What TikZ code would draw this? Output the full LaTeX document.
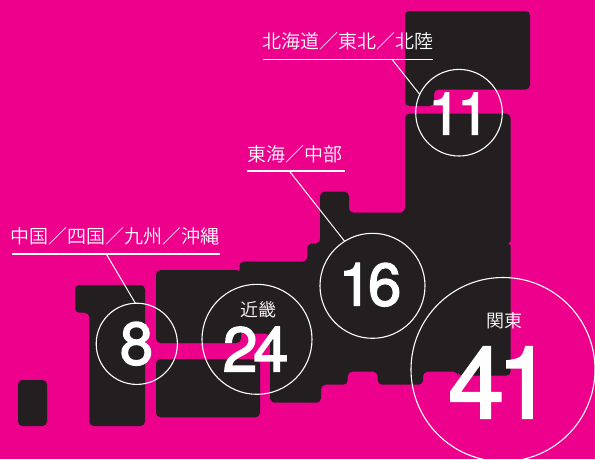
\documentclass[tikz,border=0pt]{standalone}
\usepackage{fontspec}
\setmainfont{TeX Gyre Heros}
\newfontfamily\cjk{Noto Sans CJK JP DemiLight}
\newfontfamily\numf{TeX Gyre Heros}[FakeBold=2.2,LetterSpace=-7]
\definecolor{mag}{HTML}{EC008C}
\definecolor{ink}{HTML}{231F20}
\tikzset{
 land/.style={fill=ink,rounded corners=4.5pt,draw=none},
 ring/.style={circle,draw=white,line width=1.1pt,inner sep=0pt,outer sep=0pt},
 rulep/.style={draw=white,line width=1.1pt},
 lead/.style={draw=white,line width=1pt},
 lab/.style={text=white,font=\cjk\fontsize{19}{19}\selectfont,inner sep=0pt,anchor=base west},
 sub/.style={text=white,font=\cjk\fontsize{18}{18}\selectfont,inner sep=0pt,anchor=base},
 num/.style={text=white,inner sep=0pt,anchor=base},
}
\begin{document}
\begin{tikzpicture}[x=1pt,y=-1pt]
\fill[mag] (0,0) rectangle (595,459);
\useasboundingbox (0,0) rectangle (595,459);
% Hokkaido / Tohoku top
\fill[land] (405,11) -- (530,11) -- (530,89.5) -- (434,89.5) -- (434,106) -- (405,106) -- cycle;
% Main island
\fill[land] (405,113.7) -- (510.7,113.7) -- (510.7,375.7) -- (458,375.7) -- (458,371.7) -- (423,371.7) -- (423,384.7) -- (377.7,384.7) -- (377.7,371.7) -- (347.7,371.7) -- (347.7,384.7) -- (321,384.7) -- (321,402.7) -- (270,402.7) -- (270,333.5) -- (239.3,333.5) -- (239.3,261.7) -- (307.3,261.7) -- (307.3,243.5) -- (320,243.5) -- (320,191.7) -- (349,191.7) -- (349,212.7) -- (405,212.7) -- cycle;
\fill[mag] (511,241.2) -- (508.6,243.5) -- (511,245.8) -- cycle;
% West blocks
\fill[land] (156,270) -- (241,270) -- (241,343) -- (156,343) -- cycle;
\fill[land] (156,359) rectangle (260,417.3);
\fill[land] (75,285) -- (145,285) -- (145,426) -- (89.3,426) -- (89.3,312.7) -- (75,312.7) -- cycle;
\fill[land] (18,380) rectangle (47,426);
% rings
\node[ring,minimum size=86.6pt] (c11) at (459,112.7) {};
\node[ring,minimum size=105pt] (c16) at (372.5,285.8) {};
\node[ring,minimum size=110pt] (c24) at (257,339.3) {};
\node[ring,minimum size=81.2pt] (c8) at (136.8,343.8) {};
\node[ring,minimum size=184pt] (c41) at (503,369.5) {};
% numbers
\node[num,font=\numf\fontsize{59}{59}\selectfont] (n11) at (459,134.5) {11};
\node[num,font=\numf\fontsize{60}{60}\selectfont] (n16) at (370,305.5) {16};
\node[num,font=\numf\fontsize{63}{63}\selectfont] (n24) at (255.5,371.5) {24};
\node[num,font=\numf\fontsize{60}{60}\selectfont] (n8) at (136.5,364.5) {8};
\node[num,font=\numf\fontsize{100}{100}\selectfont] (n41) at (500.5,418) {41};
\node[sub] (s24) at (258,316) {近畿};
\node[sub] (s41) at (504,327) {関東};
% labels
\node[lab] (l11) at (262.5,48) {北海道／東北／北陸};
\node[lab] (l16) at (247,161) {東海／中部};
\node[lab] (l8) at (10.5,243) {中国／四国／九州／沖縄};
% rules
\coordinate (a11) at (263,59.3); \coordinate (b11) at (433,59.3); \coordinate (t11) at (392,59.3);
\coordinate (a16) at (247.3,171); \coordinate (b16) at (344.5,171); \coordinate (t16) at (289.3,171);
\coordinate (a8) at (11.5,254); \coordinate (b8) at (220,254); \coordinate (t8) at (106.3,254);
\draw[rulep] (a11) -- (b11);
\draw[rulep] (a16) -- (b16);
\draw[rulep] (a8) -- (b8);
\draw[lead] (t11) -- (c11.155.6);
\draw[lead] (t16) -- (c16.122.8);
\draw[lead] (t8) -- (c8.92);
\end{tikzpicture}
\end{document}
